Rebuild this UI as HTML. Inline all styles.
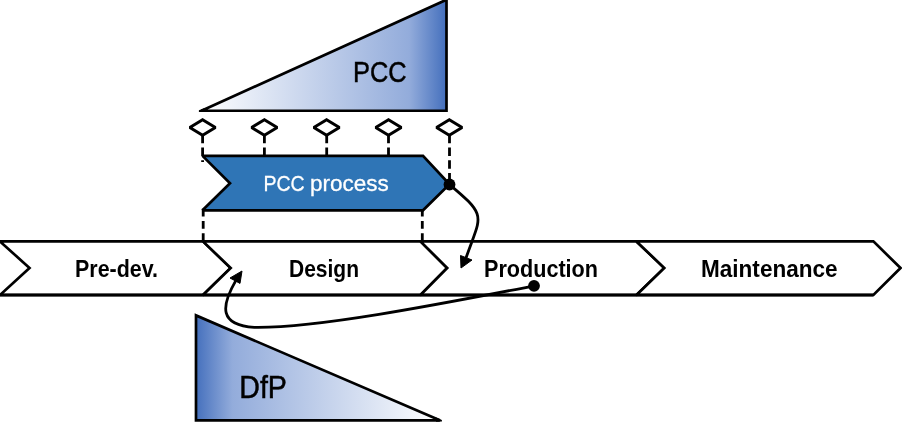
<!DOCTYPE html>
<html>
<head>
<meta charset="utf-8">
<style>
html,body{margin:0;padding:0;background:#ffffff;}
body{width:902px;height:428px;overflow:hidden;}
svg{display:block;will-change:transform;}
text{font-family:"Liberation Sans", sans-serif;}
</style>
</head>
<body>
<svg width="902" height="428" viewBox="0 0 902 428">
<defs>
<linearGradient id="gPCC" gradientUnits="userSpaceOnUse" x1="200" y1="0" x2="446" y2="0">
<stop offset="0" stop-color="#ffffff"/>
<stop offset="0.85" stop-color="#93acdb"/>
<stop offset="1" stop-color="#4570bd"/>
</linearGradient>
<linearGradient id="gDfP" gradientUnits="userSpaceOnUse" x1="440" y1="0" x2="196" y2="0">
<stop offset="0" stop-color="#ffffff"/>
<stop offset="0.85" stop-color="#93acdb"/>
<stop offset="1" stop-color="#4570bd"/>
</linearGradient>
</defs>

<!-- PCC triangle -->
<polygon points="201.5,110.75 446.5,-0.3 446.5,110.75" fill="url(#gPCC)" stroke="#000" stroke-width="2.7" stroke-linejoin="miter" stroke-miterlimit="2"/>
<polygon points="204,112.1 198.9,112 198.9,110.3 204,108.3" fill="#000"/>
<text x="353" y="82.3" font-size="30" textLength="53.6" lengthAdjust="spacingAndGlyphs" fill="#000" stroke="#000" stroke-width="0.5">PCC</text>

<!-- dashed verticals from diamonds -->
<g stroke="#000" stroke-width="2.8" fill="none">
<g stroke-dasharray="8.5 4.2">
<line x1="202.6" y1="134.8" x2="202.6" y2="162"/>
<line x1="264.4" y1="134.8" x2="264.4" y2="158"/>
<line x1="326.7" y1="134.8" x2="326.7" y2="158"/>
<line x1="388.5" y1="134.8" x2="388.5" y2="158"/>
<line x1="449.5" y1="134.8" x2="449.5" y2="184"/>
</g>
<g stroke-dasharray="7.8 4.5">
<line x1="203.2" y1="208.7" x2="203.2" y2="241"/>
<line x1="422.3" y1="208.7" x2="422.3" y2="241"/>
</g>
</g>

<!-- diamonds -->
<g fill="#fff" stroke="#000" stroke-width="3" stroke-linejoin="miter" stroke-miterlimit="1.5">
<polygon points="202.6,119.7 215.4,127.5 202.6,135.3 189.8,127.5"/>
<polygon points="264.4,119.7 277.2,127.5 264.4,135.3 251.6,127.5"/>
<polygon points="326.6,119.7 339.4,127.5 326.6,135.3 313.8,127.5"/>
<polygon points="388.5,119.7 401.3,127.5 388.5,135.3 375.7,127.5"/>
<polygon points="449.3,119.7 462.1,127.5 449.3,135.3 436.5,127.5"/>
</g>

<!-- PCC process -->
<polygon points="202.5,155.9 423,155.9 449.5,184.3 423,210.3 202.5,210.3 230,183.3" fill="#2f75b6" stroke="#000" stroke-width="2.7" stroke-linejoin="miter" stroke-miterlimit="2"/>
<text x="263.5" y="191.3" font-size="21.8" textLength="41.2" lengthAdjust="spacingAndGlyphs" fill="#fff" stroke="#fff" stroke-width="0.3">PCC</text>
<text x="310" y="191.3" font-size="21.8" textLength="78.8" lengthAdjust="spacingAndGlyphs" fill="#fff" stroke="#fff" stroke-width="0.3">process</text>

<!-- main chevrons -->
<g fill="#fff" stroke="#000" stroke-width="2.7" stroke-linejoin="miter" stroke-miterlimit="2">
<polygon points="0,241.4 203,241.4 230.7,268 203,295 0,295 29.5,268"/>
<polygon points="203,241.4 420.5,241.4 447.2,268 420.5,295 203,295 230.7,268"/>
<polygon points="420.5,241.4 636.5,241.4 664.3,268 636.5,295 420.5,295 447.2,268"/>
<polygon points="636.5,241.4 873.4,241.4 900.5,268 873.4,295 636.5,295 664.3,268"/>
</g>
<line x1="0" y1="295" x2="873.4" y2="295" stroke="#000" stroke-width="3.2"/>
<g font-weight="bold" font-size="23.7" fill="#000">
<text x="75" y="276.6" textLength="83" lengthAdjust="spacingAndGlyphs">Pre-dev.</text>
<text x="289" y="276.6" textLength="70" lengthAdjust="spacingAndGlyphs">Design</text>
<text x="484" y="276.6" textLength="114" lengthAdjust="spacingAndGlyphs">Production</text>
<text x="701" y="276.6" textLength="136.6" lengthAdjust="spacingAndGlyphs">Maintenance</text>
</g>

<!-- DfP triangle -->
<polygon points="196,315.4 196,420.3 439.8,420.3" fill="url(#gDfP)" stroke="#000" stroke-width="2.7" stroke-linejoin="miter" stroke-miterlimit="2"/>
<polygon points="436,421.65 441.9,421.6 441.9,420 436,417.5" fill="#000"/>
<text x="239.3" y="398" font-size="30.6" textLength="47.6" lengthAdjust="spacingAndGlyphs" fill="#000" stroke="#000" stroke-width="0.5">DfP</text>

<!-- curve A -->
<path d="M449.2,184.3 C488.7,217.1 480.6,215.2 466,258" fill="none" stroke="#000" stroke-width="2.8"/>
<polygon points="461,268 460.5,255.5 472,260" fill="#000" stroke="#000" stroke-width="1" stroke-linejoin="miter" stroke-miterlimit="2"/>
<circle cx="449.5" cy="184.5" r="5.9" fill="#000"/>

<!-- curve B -->
<path d="M534,285.9 C443.7,303.4 316.4,328.5 254.3,327.4 C219.1,325.4 220.8,306.5 235.8,280.6" fill="none" stroke="#000" stroke-width="2.8"/>
<polygon points="242,271 230,278 240,283.4" fill="#000" stroke="#000" stroke-width="1" stroke-linejoin="miter" stroke-miterlimit="2"/>
<circle cx="534" cy="285.8" r="5.9" fill="#000"/>
</svg>
</body>
</html>
